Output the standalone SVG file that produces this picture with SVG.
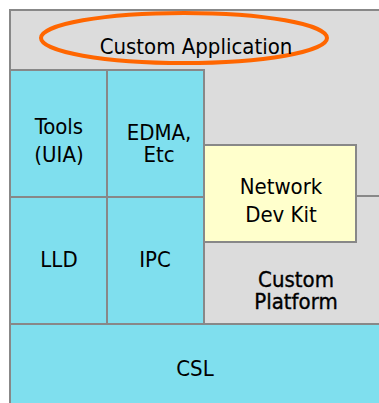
<svg xmlns="http://www.w3.org/2000/svg" width="379" height="403" viewBox="0 0 379 403">
  <style>
    .box { stroke: #888888; stroke-width: 2; }
    .gray { fill: #DCDCDC; }
    .cyan { fill: #7FDFEE; }
    .yellow { fill: #FFFFCC; }
    .lbl { font-family: "DejaVu Sans Condensed", "DejaVu Sans", sans-serif; font-size: 22px; fill: #000; text-anchor: middle; }
    .heavy { stroke: #000; stroke-width: 0.35; }
  </style>
  <g id="custom-application">
    <rect class="box gray" x="10" y="10" width="390" height="420"/>
    <ellipse cx="184" cy="38" rx="143" ry="25" fill="none" stroke="#FF6600" stroke-width="4"/>
    <text class="lbl" x="196" y="54">Custom Application</text>
  </g>
  <g id="custom-platform">
    <rect class="box gray" x="204" y="196" width="200" height="128"/>
    <text class="lbl heavy" x="296" y="287">Custom</text>
    <text class="lbl heavy" x="296" y="309">Platform</text>
  </g>
  <g id="tools">
    <rect class="box cyan" x="10" y="70" width="97" height="127"/>
    <text class="lbl" x="59" y="134">Tools</text>
    <text class="lbl" x="59" y="162">(UIA)</text>
  </g>
  <g id="edma">
    <rect class="box cyan" x="107" y="70" width="97" height="127"/>
    <text class="lbl" x="159" y="140">EDMA,</text>
    <text class="lbl" x="159" y="162">Etc</text>
  </g>
  <g id="lld">
    <rect class="box cyan" x="10" y="197" width="97" height="127"/>
    <text class="lbl" x="59" y="267">LLD</text>
  </g>
  <g id="ipc">
    <rect class="box cyan" x="107" y="197" width="97" height="127"/>
    <text class="lbl" x="155" y="267">IPC</text>
  </g>
  <g id="network-dev-kit">
    <rect class="box yellow" x="204" y="145" width="152" height="97"/>
    <text class="lbl" x="281" y="194">Network</text>
    <text class="lbl" x="281" y="222">Dev Kit</text>
  </g>
  <g id="csl">
    <rect class="box cyan" x="10" y="324" width="390" height="100"/>
    <text class="lbl" x="195" y="376">CSL</text>
  </g>
  <g id="connectors"/>
</svg>
